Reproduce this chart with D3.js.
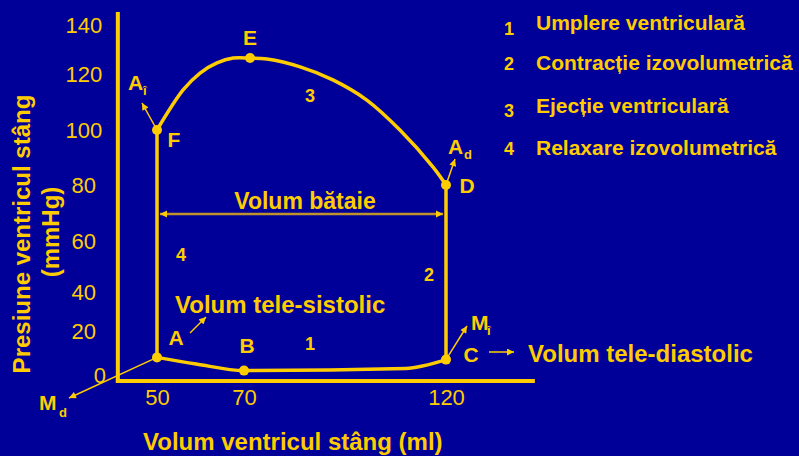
<!DOCTYPE html>
<html>
<head>
<meta charset="utf-8">
<script src="https://cdn.jsdelivr.net/npm/d3@7"></script>
<style>
  html, body { margin: 0; padding: 0; background: #000099; }
  svg { display: block; }
  text { font-family: "Liberation Sans", Arial, sans-serif; fill: #FFCC00; }
</style>
</head>
<body>
<svg id="chart" width="799" height="456"></svg>
<script>
// Axis ticks (volume in ml, pressure in mmHg)
const volumeTicks = [50, 70, 120];
const pressureTicks = [0, 20, 40, 60, 80, 100, 120, 140];
const volumeExtent = [41, 141.5];
const pressureExtent = [-2.7, 144.5];

// Phase 1 – ventricular filling (A -> B -> C)
const fillingVolume   = [50, 59, 70, 110, 120];
const fillingPressure = [8, 5, 2, 3, 7];

// Phase 3 – ventricular ejection, listed by increasing volume (F ... E ... D)
const ejectionVolume   = [50, 56, 59.9, 63.8, 67.5, 71.5, 75.7, 83.9, 92, 100.4, 108.6, 116.8, 120];
const ejectionPressure = [100, 114.3, 120.4, 124.5, 126.5, 126.5, 126.1, 122.9, 117.9, 110.7, 100, 86.5, 80];

// Corner points of the loop
const pointNames    = ["A", "B", "C", "D", "E", "F"];
const pointVolume   = [50, 70, 120, 120, 71.5, 50];
const pointPressure = [8, 2, 7, 80, 126.5, 100];

// Stroke volume bracket: from end-systolic to end-diastolic volume
const strokeVolume = [50, 120];
const strokeVolumeLevel = 69.6;

// Legend
const legendNumbers = ["1", "2", "3", "4"];
const legendLabels = ["Umplere ventriculară", "Contracție izovolumetrică", "Ejecție ventriculară", "Relaxare izovolumetrică"];

const YELLOW = "#FFCC00";
const TAN = "#C0922C";

const svg = d3.select("#chart");
svg.append("rect").attr("width", 799).attr("height", 456).attr("fill", "#000099");

const x = d3.scaleLinear().domain(volumeTicks).range([157, 244, 446]);
const y = d3.scaleLinear().domain(pressureTicks).range([375, 331, 292, 241, 185, 130, 74, 25]);

// Arrow markers
const defs = svg.append("defs");
defs.append("marker")
  .attr("id", "tip").attr("viewBox", "0 0 10 10")
  .attr("refX", 10).attr("refY", 5)
  .attr("markerWidth", 8).attr("markerHeight", 7)
  .attr("markerUnits", "userSpaceOnUse")
  .attr("orient", "auto-start-reverse")
  .append("path").attr("d", "M0,0L10,5L0,10Z").attr("fill", YELLOW);
defs.append("marker")
  .attr("id", "bv").attr("viewBox", "0 0 10 10")
  .attr("refX", 10).attr("refY", 5)
  .attr("markerWidth", 7).attr("markerHeight", 8)
  .attr("markerUnits", "userSpaceOnUse")
  .attr("orient", "auto-start-reverse")
  .append("path").attr("d", "M0,0L10,5L0,10Z").attr("fill", YELLOW);

// Tick labels
const yAxis = svg.append("g").attr("transform", `translate(${x(volumeExtent[0])},0)`)
  .call(d3.axisLeft(y).tickValues(pressureTicks).tickSize(0).tickFormat(d3.format("d")));
yAxis.select(".domain").remove();
yAxis.selectAll("text")
  .attr("font-size", 22).attr("font-family", null)
  .attr("text-anchor", "middle")
  .attr("x", d => d === 0 ? -18 : -34)
  .attr("fill", YELLOW);

const xAxis = svg.append("g").attr("transform", `translate(0,${y(pressureExtent[0])})`)
  .call(d3.axisBottom(x).tickValues(volumeTicks).tickSize(0).tickPadding(8).tickFormat(d3.format("d")));
xAxis.select(".domain").remove();
xAxis.selectAll("text").attr("font-size", 22).attr("font-family", null).attr("fill", YELLOW);

// Axis lines
svg.append("line")
  .attr("x1", x(volumeExtent[0])).attr("x2", x(volumeExtent[0]))
  .attr("y1", y(pressureExtent[1])).attr("y2", y(pressureExtent[0]))
  .attr("stroke", YELLOW).attr("stroke-width", 4).attr("stroke-linecap", "square");
svg.append("line")
  .attr("x1", x(volumeExtent[0])).attr("x2", x(volumeExtent[1]))
  .attr("y1", y(pressureExtent[0])).attr("y2", y(pressureExtent[0]))
  .attr("stroke", YELLOW).attr("stroke-width", 4).attr("stroke-linecap", "square");

// Pressure–volume loop
const loopStyle = sel => sel.attr("fill", "none").attr("stroke", YELLOW).attr("stroke-width", 3.5).attr("stroke-linejoin", "round");

const filling = d3.line().x(i => x(fillingVolume[i])).y(i => y(fillingPressure[i])).curve(d3.curveMonotoneX);
svg.append("path").attr("d", filling(d3.range(fillingVolume.length))).call(loopStyle);

const ejection = d3.line().x(i => x(ejectionVolume[i])).y(i => y(ejectionPressure[i])).curve(d3.curveCatmullRom.alpha(0.5));
svg.append("path").attr("d", ejection(d3.range(ejectionVolume.length))).call(loopStyle);

// Isovolumetric segments: C -> D and F -> A
const pt = name => pointNames.indexOf(name);
[["C", "D"], ["F", "A"]].forEach(([a, b]) => {
  svg.append("line")
    .attr("x1", x(pointVolume[pt(a)])).attr("y1", y(pointPressure[pt(a)]))
    .attr("x2", x(pointVolume[pt(b)])).attr("y2", y(pointPressure[pt(b)]))
    .call(loopStyle);
});

// Stroke volume bracket
svg.append("line")
  .attr("x1", x(strokeVolume[0]) + 3).attr("x2", x(strokeVolume[1]) - 3)
  .attr("y1", y(strokeVolumeLevel)).attr("y2", y(strokeVolumeLevel))
  .attr("stroke", TAN).attr("stroke-width", 2.5)
  .attr("marker-start", "url(#bv)").attr("marker-end", "url(#bv)");

// Small pointer arrows to the valve events and volume notes
const pointer = (x1, y1, x2, y2) => svg.append("line")
  .attr("x1", x1).attr("y1", y1).attr("x2", x2).attr("y2", y2)
  .attr("stroke", YELLOW).attr("stroke-width", 1.5)
  .attr("marker-end", "url(#tip)");
const P = name => [x(pointVolume[pt(name)]), y(pointPressure[pt(name)])];
pointer(...P("F"), 142, 103);
pointer(...P("D"), 455, 159);
pointer(...P("C"), 467, 326);
pointer(...P("A"), 69, 398);
pointer(190, 333, 206, 317);
pointer(489, 352, 514, 352);

// Loop corner points
svg.selectAll("circle.pt").data(pointNames).join("circle")
  .attr("class", "pt")
  .attr("cx", d => x(pointVolume[pt(d)]))
  .attr("cy", d => y(pointPressure[pt(d)]))
  .attr("r", 5).attr("fill", YELLOW);

// Text helpers
const label = (txt, tx, ty, size, anchor = "start", weight = "bold") =>
  svg.append("text").attr("x", tx).attr("y", ty).attr("font-size", size)
    .attr("font-weight", weight).attr("text-anchor", anchor).text(txt);
const subLabel = (main, sub, tx, ty, sx, sy) => {
  label(main, tx, ty, 21);
  label(sub, sx, sy, 13);
};

// Point letters
label("A", 176, 345, 21, "middle");
label("B", 247, 353, 21, "middle");
label("C", 471, 362, 21, "middle");
label("D", 467, 193, 21, "middle");
label("E", 250, 45, 21, "middle");
label("F", 174, 147, 21, "middle");

// Valve labels
subLabel("A", "î", 128, 90, 143, 95);
subLabel("A", "d", 448, 154, 464, 159);
subLabel("M", "î", 471, 330, 487, 335);
subLabel("M", "d", 39, 410, 59, 417);

// Phase numbers on the loop
label("1", 310, 350, 18, "middle");
label("2", 429, 281, 18, "middle");
label("3", 310, 102, 18, "middle");
label("4", 181, 261, 18, "middle");

// Annotations
label("Volum bătaie", 305, 209, 23, "middle");
label("Volum tele-sistolic", 175, 313, 24);
label("Volum tele-diastolic", 528, 362, 24);

// Axis titles
label("Volum ventricul stâng (ml)", 143, 450, 24);
svg.append("text").attr("transform", "translate(30,234) rotate(-90)")
  .attr("text-anchor", "middle").attr("font-size", 24).attr("font-weight", "bold")
  .text("Presiune ventricul stâng");
svg.append("text").attr("transform", "translate(59,232) rotate(-90)")
  .attr("text-anchor", "middle").attr("font-size", 24).attr("font-weight", "bold")
  .text("(mmHg)");

// Legend
const legendNumY = [35, 70, 117, 155];
const legendTextY = [30, 70, 113, 155];
legendNumbers.forEach((n, i) => label(n, 509, legendNumY[i], 18, "middle"));
legendLabels.forEach((t, i) => label(t, 536, legendTextY[i], 21));
</script>
</body>
</html>
